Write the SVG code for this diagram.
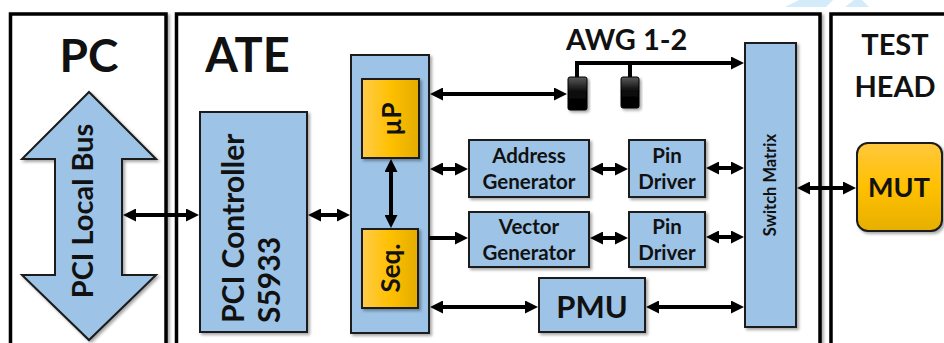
<svg xmlns="http://www.w3.org/2000/svg" width="944" height="343" viewBox="0 0 944 343">
<defs>
<style>
.panel{fill:#fff;stroke:#000;stroke-width:3.5}
.blk{fill:#9DC3E6;stroke:#1a1a1a;stroke-width:2}
.gold{fill:url(#gold);stroke:#1a1a1a;stroke-width:2}
.t{font-family:Lato,"Open Sans","Liberation Sans",sans-serif;font-weight:bold;fill:#111}
.c{stroke:#000;stroke-width:4;fill:none}
</style>
<linearGradient id="gold" x1="0" y1="0" x2="1" y2="0">
<stop offset="0" stop-color="#FFCC4A"/><stop offset="0.5" stop-color="#FFC000"/><stop offset="1" stop-color="#E3AC00"/>
</linearGradient>
<linearGradient id="goldv" x1="0" y1="0" x2="0" y2="1">
<stop offset="0" stop-color="#FFC83E"/><stop offset="0.5" stop-color="#FFC000"/><stop offset="1" stop-color="#E6AF00"/>
</linearGradient>
<linearGradient id="blackg" x1="0" y1="0" x2="0" y2="1">
<stop offset="0" stop-color="#5a5a5a"/><stop offset="0.45" stop-color="#0a0a0a"/><stop offset="1" stop-color="#000"/>
</linearGradient>
<marker id="ah" viewBox="0 0 13 13" refX="7" refY="6.5" markerWidth="13" markerHeight="13" markerUnits="userSpaceOnUse" orient="auto-start-reverse">
<path d="M0,0L13,6.5L0,13z" fill="#000"/>
</marker>
<filter id="sh" x="-20%" y="-20%" width="140%" height="140%">
<feDropShadow dx="2" dy="2" stdDeviation="1.5" flood-color="#000" flood-opacity="0.35"/>
</filter>
</defs>

<g id="watermark" fill="#D4ECFA">
<polygon points="785,7 799,0 833,0 826,7"/>
<polygon points="845,7 854,0 862,0 869,7"/>
</g>

<g id="panel-pc">
<rect class="panel" x="10.5" y="14" width="155.5" height="350" filter="url(#sh)"/>
<text class="t" x="89" y="72" font-size="46" text-anchor="middle">PC</text>
</g>
<g id="panel-ate">
<rect class="panel" x="176.5" y="14" width="643.5" height="350" filter="url(#sh)"/>
<text class="t" x="247.5" y="72" font-size="47" text-anchor="middle">ATE</text>
</g>
<g id="panel-testhead">
<rect class="panel" x="831" y="14" width="130" height="350" filter="url(#sh)"/>
<text class="t" x="895" y="55" font-size="29" text-anchor="middle">TEST</text>
<text class="t" x="895" y="97" font-size="29" text-anchor="middle">HEAD</text>
</g>

<g id="pci-local-bus">
<polygon class="blk" points="89,92 156,159 122,159 122,275 156,275 89,340 22,275 55,275 55,159 22,159" filter="url(#sh)"/>
<text class="t" font-size="29" text-anchor="middle" transform="translate(93,211) rotate(-90)">PCI Local Bus</text>
</g>

<g id="pci-controller">
<rect class="blk" x="200" y="112" width="107" height="220" filter="url(#sh)"/>
<text class="t" font-size="30" transform="translate(244,323) rotate(-90)">PCI Controller</text>
<text class="t" font-size="30" transform="translate(280,323) rotate(-90)">S5933</text>
</g>

<g id="cpu-column">
<rect class="blk" x="351" y="55" width="78" height="278" filter="url(#sh)"/>
</g>
<g id="up">
<rect class="gold" x="362" y="79" width="57" height="79" filter="url(#sh)"/>
<text class="t" font-size="26" text-anchor="middle" transform="translate(401,119) rotate(-90)">µP</text>
</g>
<g id="seq">
<rect class="gold" x="362" y="229" width="56" height="79" filter="url(#sh)"/>
<text class="t" font-size="26" text-anchor="middle" transform="translate(400,268) rotate(-90)">Seq.</text>
</g>

<g id="awg">
<text class="t" x="566" y="50" font-size="29">AWG 1-2</text>
<rect x="568" y="77" width="19" height="33" rx="2" fill="url(#blackg)" stroke="#000" stroke-width="1" filter="url(#sh)"/>
<rect x="621" y="77" width="18" height="31" rx="2" fill="url(#blackg)" stroke="#000" stroke-width="1" filter="url(#sh)"/>
</g>

<g id="address-generator">
<rect class="blk" x="469" y="140" width="120" height="57" filter="url(#sh)"/>
<text class="t" x="529" y="163" font-size="20.5" text-anchor="middle">Address</text>
<text class="t" x="529" y="189" font-size="20.5" text-anchor="middle">Generator</text>
</g>
<g id="vector-generator">
<rect class="blk" x="469" y="212" width="120" height="55" filter="url(#sh)"/>
<text class="t" x="529" y="234" font-size="20.5" text-anchor="middle">Vector</text>
<text class="t" x="529" y="260" font-size="20.5" text-anchor="middle">Generator</text>
</g>
<g id="pin-driver-1">
<rect class="blk" x="629" y="140" width="76" height="57" filter="url(#sh)"/>
<text class="t" x="667" y="163" font-size="20.5" text-anchor="middle">Pin</text>
<text class="t" x="667" y="189" font-size="20.5" text-anchor="middle">Driver</text>
</g>
<g id="pin-driver-2">
<rect class="blk" x="629" y="212" width="76" height="55" filter="url(#sh)"/>
<text class="t" x="667" y="234" font-size="20.5" text-anchor="middle">Pin</text>
<text class="t" x="667" y="260" font-size="20.5" text-anchor="middle">Driver</text>
</g>
<g id="pmu">
<rect class="blk" x="539" y="278" width="106" height="54" filter="url(#sh)"/>
<text class="t" x="592" y="318" font-size="31" text-anchor="middle">PMU</text>
</g>
<g id="switch-matrix">
<rect class="blk" x="745" y="43" width="51" height="284" filter="url(#sh)"/>
<text class="t" font-size="16.5" text-anchor="middle" transform="translate(776,185) rotate(-90)">Switch Matrix</text>
</g>
<g id="mut">
<rect x="857" y="143" width="85" height="88" rx="11" fill="url(#goldv)" stroke="#1a1a1a" stroke-width="2" filter="url(#sh)"/>
<text class="t" x="899" y="197" font-size="27" text-anchor="middle">MUT</text>
</g>

<g id="connectors">
<line class="c" x1="129" y1="215" x2="193" y2="215" marker-start="url(#ah)" marker-end="url(#ah)"/>
<line class="c" x1="314" y1="215" x2="344" y2="215" marker-start="url(#ah)" marker-end="url(#ah)"/>
<line class="c" x1="436" y1="94" x2="561" y2="94" marker-start="url(#ah)" marker-end="url(#ah)"/>
<line class="c" x1="391" y1="165" x2="391" y2="222" marker-start="url(#ah)" marker-end="url(#ah)"/>
<line class="c" x1="436" y1="169" x2="462" y2="169" marker-start="url(#ah)" marker-end="url(#ah)"/>
<line class="c" x1="429" y1="238" x2="462" y2="238" marker-end="url(#ah)"/>
<line class="c" x1="596" y1="169" x2="622" y2="169" marker-start="url(#ah)" marker-end="url(#ah)"/>
<line class="c" x1="596" y1="238" x2="622" y2="238" marker-start="url(#ah)" marker-end="url(#ah)"/>
<line class="c" x1="712" y1="168" x2="738" y2="168" marker-start="url(#ah)" marker-end="url(#ah)"/>
<line class="c" x1="712" y1="237" x2="738" y2="237" marker-start="url(#ah)" marker-end="url(#ah)"/>
<line class="c" x1="436" y1="307" x2="532" y2="307" marker-start="url(#ah)" marker-end="url(#ah)"/>
<line class="c" x1="652" y1="307" x2="738" y2="307" marker-start="url(#ah)" marker-end="url(#ah)"/>
<line class="c" x1="803" y1="188" x2="850" y2="188" marker-start="url(#ah)" marker-end="url(#ah)"/>
<path class="c" d="M577,77V63H738" marker-end="url(#ah)"/>
<path class="c" d="M630,63V77"/>
</g>
</svg>
